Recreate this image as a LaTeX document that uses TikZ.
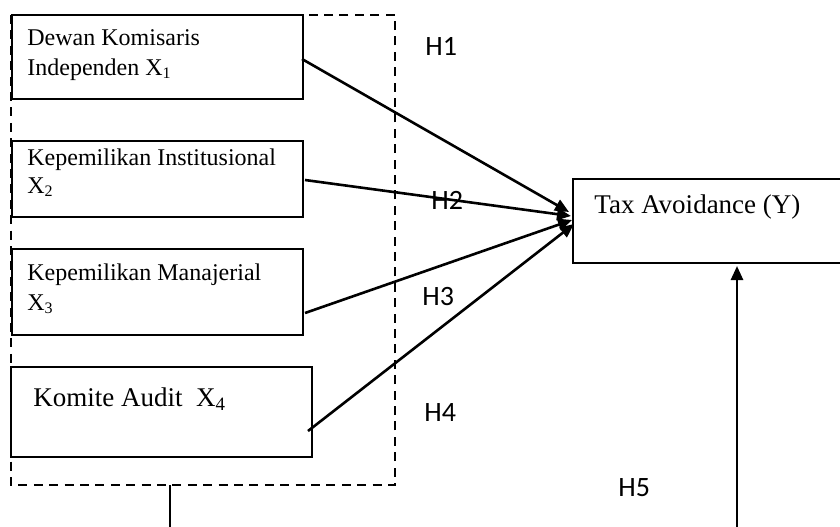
\documentclass[tikz,border=0pt]{standalone}
\usepackage{fontspec}
\setmainfont{Liberation Serif}
\newfontfamily\hfont{Carlito}
\usetikzlibrary{arrows.meta}
\begin{document}
\begin{tikzpicture}[x=0.5pt,y=-0.5pt,
  box/.style={draw,line width=0.7pt,inner sep=0pt},
  boxthick/.style={draw,line width=1.2pt,inner sep=0pt},
  txt/.style={font=\fontsize{12}{14}\selectfont,anchor=base west,inner sep=0pt},
  txtbig/.style={font=\fontsize{13.5}{16}\selectfont,anchor=base west,inner sep=0pt},
  hlab/.style={font=\hfont\fontsize{14}{16}\selectfont,anchor=base west,inner sep=0pt},
  conn/.style={line width=1.3pt,-{Triangle[length=7pt,width=6pt]}},
  dbox/.style={draw,line width=1.3pt,dash pattern=on 4.5pt off 3.2pt}]
\useasboundingbox (0,0) rectangle (840,526);
% dashed group
\draw[dbox] (11,15) rectangle (395,485);
\coordinate (gb) at (170,485);
\coordinate (gend) at (170,527);
\draw[line width=0.7pt] (gb) -- (gend);
% boxes
\draw[box] (12,15) rectangle (303,99);
\draw[box] (12,141) rectangle (303,217);
\draw[box] (12,249) rectangle (303,335);
\draw[boxthick] (11,367) rectangle (312,457);
\draw[box] (573,179) rectangle (842,263);
% texts
\node[txt] (t1a) at (27,45) {Dewan Komisaris};
\node[txt] (t1b) at (27,75) {Independen X\textsubscript{1}};
\node[txt] (t2a) at (27,165) {Kepemilikan Institusional};
\node[txt] (t2b) at (27,193) {X\textsubscript{2}};
\node[txt] (t3a) at (27,280) {Kepemilikan Manajerial};
\node[txt] (t3b) at (27,310) {X\textsubscript{3}};
\node[txtbig] (t4) at (33,406) {Komite Audit\ \ X\textsubscript{4}};
\node[txtbig] (ty) at (594,213) {Tax Avoidance (Y)};
% hypothesis labels
\node[hlab] (h1) at (425,55) {H1};
\node[hlab] (h2) at (431,209) {H2};
\node[hlab] (h3) at (422,305) {H3};
\node[hlab] (h4) at (424,421) {H4};
\node[hlab] (h5) at (618,496) {H5};
% connector endpoints
\coordinate (s1) at (302,59);
\coordinate (s2) at (305,180);
\coordinate (s3) at (305,313);
\coordinate (s4) at (308,431);
\coordinate (e1) at (569,212);
\coordinate (e2) at (571,216);
\coordinate (e3) at (572,220);
\coordinate (e4) at (574,224);
\coordinate (s5) at (737,527);
\coordinate (e5) at (737,266);
\draw[conn] (s1) -- (e1);
\draw[conn] (s2) -- (e2);
\draw[conn] (s3) -- (e3);
\draw[conn] (s4) -- (e4);
\draw[conn] (s5) -- (e5);
\end{tikzpicture}
\end{document}
